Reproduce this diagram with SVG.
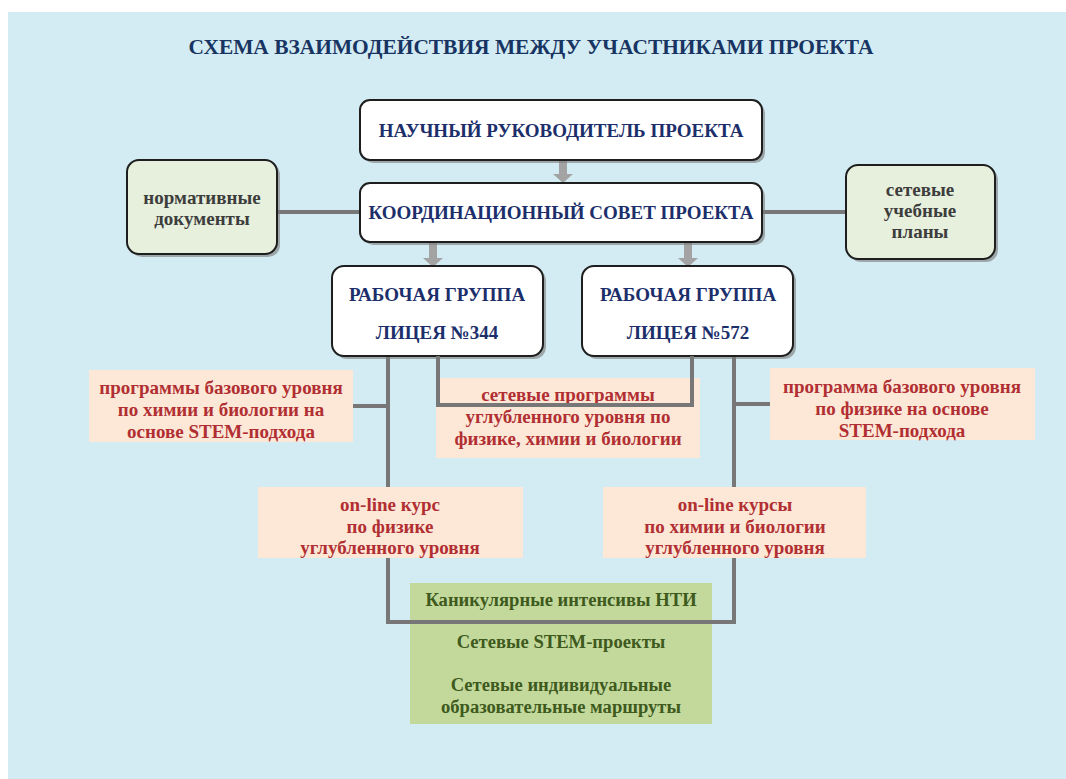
<svg xmlns="http://www.w3.org/2000/svg" width="1066" height="779" viewBox="0 0 1066 779">
<style>
.main{fill:#ffffff;stroke:#1e1e1e;stroke-width:2}
.side{fill:#e7f0dc;stroke:#1e1e1e;stroke-width:2}
.shadow{fill:#7a7a7a;opacity:0.6}
.pink{fill:#fde8d8}
.green{fill:#c3d99c}
.ln{fill:none;stroke:#777777;stroke-width:4;stroke-linejoin:miter}
.arr{fill:#a3a3a3}
text{font-family:"Liberation Serif","DejaVu Serif",serif;font-weight:bold;text-anchor:middle}
.hd{fill:#1c2f6b;font-size:19px}
.sd{fill:#3d3d3d;font-size:19px}
.rd{fill:#b12f32;font-size:19px}
.gr{fill:#3e5a1d;font-size:18.6px}
</style>
<rect x="8" y="12" width="1058" height="767" fill="#d3ecf3"/>
<text x="531" y="54" fill="#173462" font-size="22" textLength="685" lengthAdjust="spacingAndGlyphs">СХЕМА ВЗАИМОДЕЙСТВИЯ МЕЖДУ УЧАСТНИКАМИ ПРОЕКТА</text>

<g id="connectors">
<line class="ln" x1="277" y1="212" x2="360" y2="212"/>
<line class="ln" x1="762" y1="212" x2="846" y2="212"/>
<path class="arr" d="M559,160 h8 v14 h6 l-10,9 l-10,-9 h6 z"/>
<path class="arr" d="M429,242 h8 v16 h6 l-10,9 l-10,-9 h6 z"/>
<path class="arr" d="M684,242 h8 v16 h6 l-10,9 l-10,-9 h6 z"/>
<path class="ln" d="M388,356 V622 H734 V356"/>
<line class="ln" x1="353" y1="406" x2="388" y2="406"/>
<line class="ln" x1="734" y1="404" x2="770" y2="404"/>
</g>

<g id="n-head">
<rect class="shadow" x="363" y="103" width="402" height="60" rx="10"/>
<rect class="main" x="360" y="100" width="402" height="60" rx="10"/>
<text class="hd" x="561" y="137">НАУЧНЫЙ РУКОВОДИТЕЛЬ ПРОЕКТА</text>
</g>
<g id="n-council">
<rect class="shadow" x="363" y="186" width="402" height="59" rx="10"/>
<rect class="main" x="360" y="183" width="402" height="59" rx="10"/>
<text class="hd" x="561" y="219">КООРДИНАЦИОННЫЙ СОВЕТ ПРОЕКТА</text>
</g>
<g id="n-norm">
<rect class="shadow" x="130" y="163" width="150" height="94" rx="12"/>
<rect class="side" x="127" y="160" width="150" height="94" rx="12"/>
<text class="sd" x="202" y="204">нормативные</text>
<text class="sd" x="202" y="225">документы</text>
</g>
<g id="n-plans">
<rect class="shadow" x="849" y="168" width="149" height="94" rx="12"/>
<rect class="side" x="846" y="165" width="149" height="94" rx="12"/>
<text class="sd" x="920" y="196">сетевые</text>
<text class="sd" x="920" y="217">учебные</text>
<text class="sd" x="920" y="238">планы</text>
</g>
<g id="n-344">
<rect class="shadow" x="335" y="269" width="211" height="90" rx="12"/>
<rect class="main" x="332" y="266" width="211" height="90" rx="12"/>
<text class="hd" x="437" y="301">РАБОЧАЯ ГРУППА</text>
<text class="hd" x="437" y="339">ЛИЦЕЯ №344</text>
</g>
<g id="n-572">
<rect class="shadow" x="585" y="269" width="211" height="90" rx="12"/>
<rect class="main" x="582" y="266" width="211" height="90" rx="12"/>
<text class="hd" x="688" y="301">РАБОЧАЯ ГРУППА</text>
<text class="hd" x="688" y="339">ЛИЦЕЯ №572</text>
</g>

<g id="n-base-left">
<rect class="pink" x="89" y="370" width="264" height="72"/>
<text class="rd" x="221" y="394">программы базового уровня</text>
<text class="rd" x="221" y="416">по химии и биологии на</text>
<text class="rd" x="221" y="438">основе STEM-подхода</text>
</g>
<g id="n-net-prog">
<rect class="pink" x="436" y="378" width="264" height="80"/>
<text class="rd" x="568" y="401">сетевые программы</text>
<text class="rd" x="568" y="423">углубленного уровня по</text>
<text class="rd" x="568" y="445">физике, химии и биологии</text>
</g>
<path class="ln" d="M438,356 V405 H692 V356"/>
<g id="n-base-right">
<rect class="pink" x="770" y="368" width="265" height="72"/>
<text class="rd" x="902" y="393">программа базового уровня</text>
<text class="rd" x="902" y="415">по физике на основе</text>
<text class="rd" x="902" y="437">STEM-подхода</text>
</g>
<g id="n-online-left">
<rect class="pink" x="258" y="487" width="265" height="71"/>
<text class="rd" x="390" y="511">on-line курс</text>
<text class="rd" x="390" y="533">по физике</text>
<text class="rd" x="390" y="554">углубленного уровня</text>
</g>
<g id="n-online-right">
<rect class="pink" x="603" y="487" width="263" height="71"/>
<text class="rd" x="735" y="511">on-line курсы</text>
<text class="rd" x="735" y="533">по химии и биологии</text>
<text class="rd" x="735" y="554">углубленного уровня</text>
</g>
<g id="n-green">
<rect class="green" x="410" y="583" width="302" height="141"/>
<text class="gr" x="561" y="606">Каникулярные интенсивы НТИ</text>
<text class="gr" x="561" y="648">Сетевые STEM-проекты</text>
<text class="gr" x="561" y="691">Сетевые индивидуальные</text>
<text class="gr" x="561" y="713">образовательные маршруты</text>
</g>
<path class="ln" d="M388,558 V622 H734 V558"/>
</svg>
